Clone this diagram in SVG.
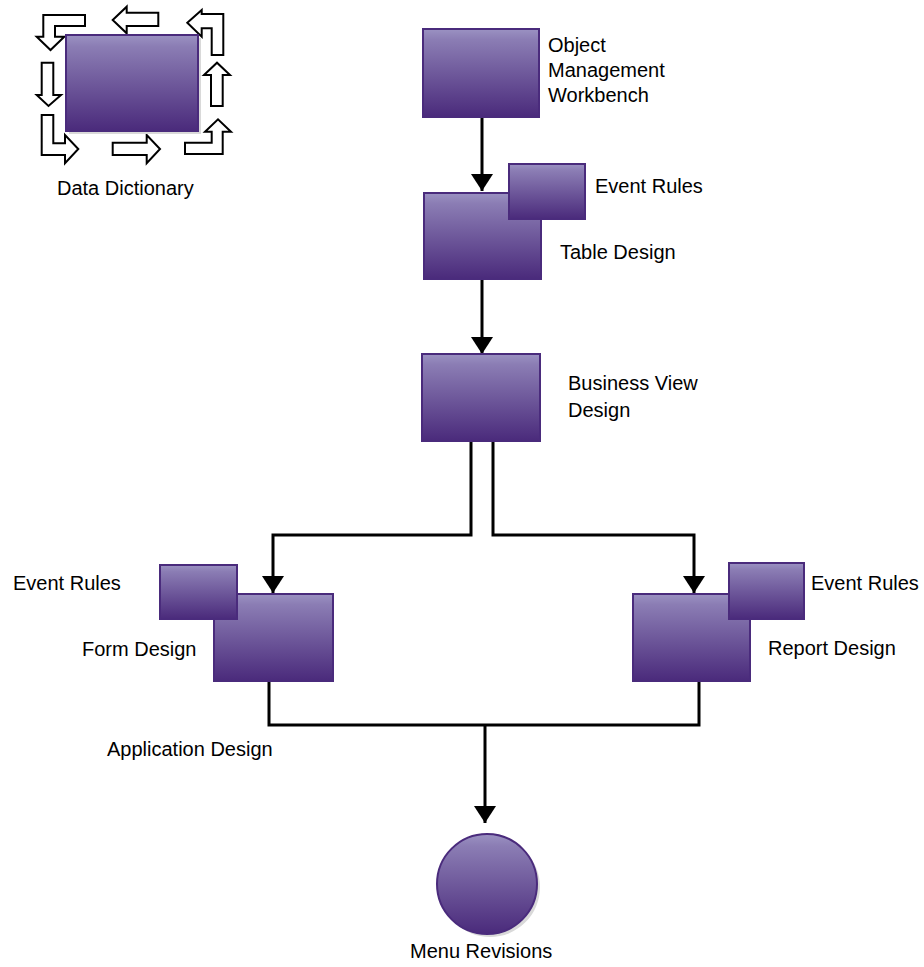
<svg xmlns="http://www.w3.org/2000/svg" width="924" height="967" viewBox="0 0 924 967">
  <style>
    .box { fill: url(#purple); stroke: #4a2b7c; stroke-width: 2; }
    .shadow { fill: #d9d9d9; }
    .cycle { fill: #ffffff; stroke: #000000; stroke-width: 2; stroke-linejoin: miter; }
    .lbl { font-family: "Liberation Sans", Arial, sans-serif; font-size: 20px; fill: #000000; }
    .wire { fill: none; stroke: #000000; stroke-width: 3; }
  </style>
  <defs>
    <linearGradient id="purple" x1="0" y1="0" x2="0" y2="1">
      <stop offset="0" stop-color="#9b92c2"/>
      <stop offset="0.12" stop-color="#8b7db4"/>
      <stop offset="1" stop-color="#4a2a7b"/>
    </linearGradient>
    <marker id="ah" markerUnits="userSpaceOnUse" markerWidth="18" markerHeight="22" refX="17" refY="11" orient="auto" overflow="visible">
      <path d="M0,0 L17,11 L0,22 z" fill="#000000"/>
    </marker>
  </defs>

  <rect width="924" height="967" fill="#ffffff"/>

  <!-- data dictionary: box wrapped by a ring of outline arrows -->
  <g id="data-dictionary">
    <polygon class="cycle" points="85,15 43.3,15 43.3,36.7 36.7,36.7 50.5,50 64.3,36.7 55,36.7 55,26 85,26"/>
    <polygon class="cycle" points="112.7,20 126.7,6.7 126.7,12.7 158.3,12.7 158.3,26 126.7,26 126.7,33.3"/>
    <polygon class="cycle" points="187.3,22.7 201.7,10 201.7,14 223.3,14 223.3,55 211.7,55 211.7,28.3 201.7,28.3 201.7,36.7"/>
    <polygon class="cycle" points="36.7,95 41.7,95 41.7,62.7 53.3,62.7 53.3,95 61,95 48.5,106"/>
    <polygon class="cycle" points="211,106 211,75 204,75 217,62.7 230,75 222.7,75 222.7,106"/>
    <polygon class="cycle" points="41.7,115 53.3,115 53.3,143.3 65,143.3 65,135 78.3,149 65,163.3 65,155 41.7,155"/>
    <polygon class="cycle" points="112.7,142.7 146.7,142.7 146.7,135 160,149 146.7,163.3 146.7,155 112.7,155"/>
    <polygon class="cycle" points="185,142.7 211.7,142.7 211.7,131.7 205,131.7 218,119.3 231,131.7 222.7,131.7 222.7,154 185,154"/>
    <rect class="shadow" x="69" y="38" width="132" height="96"/>
    <rect class="box" x="66" y="35" width="132" height="96"/>
    <text class="lbl" x="57" y="195">Data Dictionary</text>
  </g>

  <!-- connectors -->
  <g id="connectors">
    <path class="wire" d="M482,117 V191" marker-end="url(#ah)"/>
    <path class="wire" d="M482,279 V354" marker-end="url(#ah)"/>
    <path class="wire" d="M471,441 V535 H273 V593" marker-end="url(#ah)"/>
    <path class="wire" d="M493,441 V535 H694 V593" marker-end="url(#ah)"/>
    <path class="wire" d="M269,681 V725 H699 V681"/>
    <path class="wire" d="M485,725 V823" marker-end="url(#ah)"/>
  </g>

  <g id="omw">
    <rect class="box" x="423" y="29" width="116" height="88"/>
    <text class="lbl" x="548" y="52">Object</text>
    <text class="lbl" x="548" y="77">Management</text>
    <text class="lbl" x="548" y="102">Workbench</text>
  </g>

  <g id="table-design">
    <rect class="box" x="424" y="193" width="117" height="86"/>
    <text class="lbl" x="560" y="259">Table Design</text>
  </g>
  <g id="table-event-rules">
    <rect class="box" x="509" y="164" width="76" height="55"/>
    <text class="lbl" x="595" y="193">Event Rules</text>
  </g>

  <g id="business-view">
    <rect class="box" x="422" y="354" width="118" height="87"/>
    <text class="lbl" x="568" y="390">Business View</text>
    <text class="lbl" x="568" y="417">Design</text>
  </g>

  <g id="form-design">
    <rect class="box" x="214" y="594" width="119" height="87"/>
    <text class="lbl" x="82" y="656">Form Design</text>
  </g>
  <g id="form-event-rules">
    <rect class="box" x="160" y="565" width="77" height="54"/>
    <text class="lbl" x="13" y="590">Event Rules</text>
  </g>

  <g id="report-design">
    <rect class="box" x="633" y="594" width="117" height="87"/>
    <text class="lbl" x="768" y="655">Report Design</text>
  </g>
  <g id="report-event-rules">
    <rect class="box" x="729" y="563" width="75" height="56"/>
    <text class="lbl" x="811" y="590">Event Rules</text>
  </g>

  <g id="application-design">
    <text class="lbl" x="107" y="756">Application Design</text>
  </g>

  <g id="menu-revisions">
    <circle class="shadow" cx="490" cy="887" r="50"/>
    <circle class="box" cx="487" cy="884" r="50"/>
    <text class="lbl" x="410" y="958">Menu Revisions</text>
  </g>
</svg>
